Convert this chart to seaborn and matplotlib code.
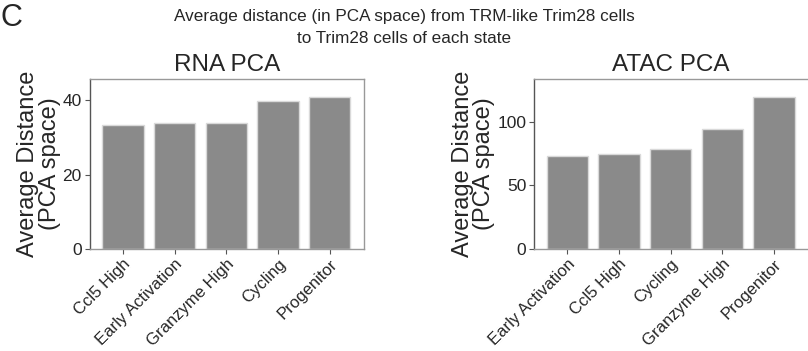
import matplotlib
matplotlib.use("Agg")
import matplotlib.pyplot as plt
import seaborn as sns
import pandas as pd

rna_states = ["Ccl5 High", "Early Activation", "Granzyme High", "Cycling", "Progenitor"]
rna_values = [33.3, 33.8, 33.9, 39.8, 40.8]
atac_states = ["Early Activation", "Ccl5 High", "Cycling", "Granzyme High", "Progenitor"]
atac_values = [73.1, 74.4, 78.8, 94.0, 119.2]
rna_yticks = [0, 20, 40]
atac_yticks = [0, 50, 100]

sns.set_style("white")
plt.rcParams['font.family'] = ['Liberation Sans', 'DejaVu Sans']

fig = plt.figure(figsize=(8.08, 3.51), dpi=100)
W, H = 808, 351

def add_ax(x0, x1, y_top, y_bot):
    return fig.add_axes([x0 / W, (H - y_bot) / H, (x1 - x0) / W, (y_bot - y_top) / H])

ax1 = add_ax(89.5, 364, 79, 249)
ax2 = add_ax(534, 808.5, 79, 249)

bar_color = "#8a8a8a"
for ax, states, vals, ticks, title in [
    (ax1, rna_states, rna_values, rna_yticks, "RNA PCA"),
    (ax2, atac_states, atac_values, atac_yticks, "ATAC PCA"),
]:
    df = pd.DataFrame({"state": states, "value": vals})
    sns.barplot(data=df, x="state", y="value", ax=ax, color=bar_color,
                saturation=1, width=0.8, edgecolor="#d9d9d9", linewidth=1.0)
    ax.set_ylim(0, max(vals) * 1.12)
    ax.set_xlim(-0.645, 4.665)
    ax.set_yticks(ticks)
    ax.set_yticklabels([str(t) for t in ticks], fontsize=12.5)
    ax.set_xticks(range(len(states)))
    ax.set_xticklabels(states, rotation=45, ha="right", rotation_mode="anchor", fontsize=12)
    ax.set_xlabel("")
    ax.set_ylabel("Average Distance\n(PCA space)", fontsize=17, linespacing=0.95, labelpad=1.5)
    ax.set_title(title, fontsize=17.5, pad=6)
    for side in ["top", "right", "bottom"]:
        ax.spines[side].set_color("#999999")
        ax.spines[side].set_linewidth(1.0)
    ax.spines["left"].set_color("#555555")
    ax.spines["left"].set_linewidth(1.0)
    ax.tick_params(axis="both", which="both", length=3.5, width=0.8, color="#555555",
                   bottom=True, left=True, pad=2)

fig.text(0.5, 1 - 9 / H, "Average distance (in PCA space) from TRM-like Trim28 cells\nto Trim28 cells of each state",
         ha="center", va="top", fontsize=12.3, linespacing=1.62)
fig.text(1 / W, 1 - 3 / H, "C", ha="left", va="top", fontsize=22)

fig.savefig("out.png", dpi=100)
